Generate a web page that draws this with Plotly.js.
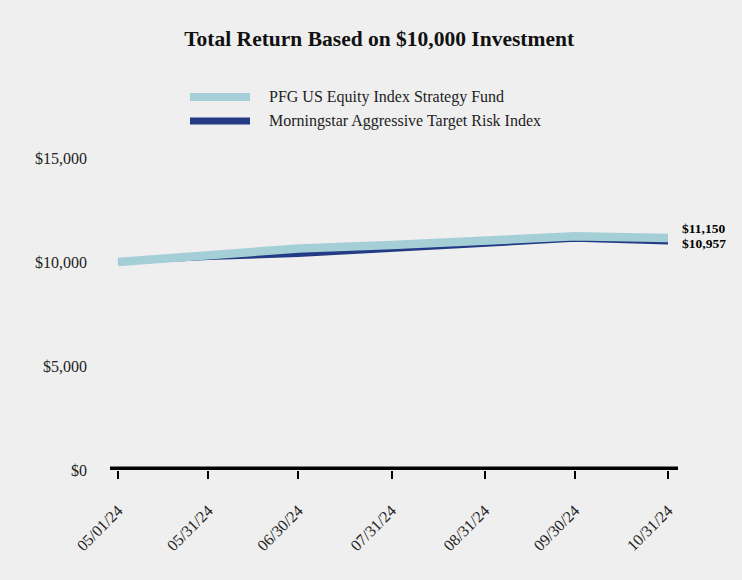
<!DOCTYPE html>
<html>
<head>
<meta charset="utf-8">
<script src="https://cdn.plot.ly/plotly-3.0.1.min.js"></script>
<style>html,body{margin:0;padding:0;background:#efefef;}#chart{width:742px;height:580px;}</style>
</head>
<body>
<div id="chart"></div>
<script>
var dates = ["2024-05-01","2024-05-31","2024-06-30","2024-07-31","2024-08-31","2024-09-30","2024-10-31"];
var tickLabels = ["05/01/24","05/31/24","06/30/24","07/31/24","08/31/24","09/30/24","10/31/24"];
var fundName = "PFG US Equity Index Strategy Fund";
var indexName = "Morningstar Aggressive Target Risk Index";
var fundValues = [10000, 10346, 10650, 10817, 11010, 11235, 11150];
var indexValues = [10000, 10216, 10361, 10625, 10865, 11090, 10957];
var yTickVals = [0, 5000, 10000, 15000];
var yTickText = ["$0", "$5,000", "$10,000", "$15,000"];
var endLabels = ["$11,150", "$10,957"];

var serif = "Liberation Serif, Times New Roman, serif";
var last = dates.length - 1;
var fundColor = "#a5cfd7", indexColor = "#223b84";

// plot area in pixels (for placing the manual legend)
var W = 742, H = 580, L = 110, R = 64, T = 158, B = 110;
var pw = W - L - R, ph = H - T - B;
function px(x) { return (x - L) / pw; }
function py(y) { return (H - B - y) / ph; }

var traces = [
  {x: dates, y: indexValues, name: indexName, type: "scatter", mode: "lines",
   line: {color: indexColor, width: 5}, showlegend: false, hoverinfo: "skip"},
  {x: dates, y: fundValues, name: fundName, type: "scatter", mode: "lines",
   line: {color: fundColor, width: 8.5}, showlegend: false, hoverinfo: "skip"}
];

var legendItems = [
  {name: fundName, color: fundColor, width: 8, y: 97},
  {name: indexName, color: indexColor, width: 7, y: 121}
];

var shapes = [
  {type: "line", xref: "paper", yref: "y", x0: 0, x1: 1, y0: 0, y1: 0,
   line: {color: "#000", width: 7}}
];
var annotations = [
  {x: dates[last], y: fundValues[last], xref: "x", yref: "y", text: "<b>" + endLabels[0] + "</b>",
   showarrow: false, xanchor: "left", yanchor: "middle", xshift: 12, yshift: 10,
   font: {family: serif, size: 13.5, color: "#000"}},
  {x: dates[last], y: indexValues[last], xref: "x", yref: "y", text: "<b>" + endLabels[1] + "</b>",
   showarrow: false, xanchor: "left", yanchor: "middle", xshift: 12, yshift: -1,
   font: {family: serif, size: 13.5, color: "#000"}}
];
legendItems.forEach(function (it) {
  shapes.push({type: "line", xref: "paper", yref: "paper", x0: px(190), x1: px(250),
               y0: py(it.y), y1: py(it.y), line: {color: it.color, width: it.width}});
  annotations.push({xref: "paper", yref: "paper", x: px(267), y: py(it.y), text: it.name,
                    showarrow: false, xanchor: "left", yanchor: "middle",
                    font: {family: serif, size: 16, color: "#222"}});
});

var layout = {
  width: W, height: H,
  paper_bgcolor: "#efefef", plot_bgcolor: "#efefef",
  margin: {l: L, r: R, t: T, b: B},
  font: {family: serif, color: "#222", size: 14},
  title: {text: "<b>Total Return Based on $10,000 Investment</b>",
          font: {family: serif, size: 21.5, color: "#111"},
          x: 0.511, xref: "container", xanchor: "center",
          y: 1 - 38/580, yref: "container", yanchor: "middle"},
  showlegend: false,
  xaxis: {type: "date", range: ["2024-04-28 08:00", "2024-11-03 08:00"],
          tickvals: dates, ticktext: tickLabels, tickangle: -45,
          ticks: "outside", ticklen: 8, tickwidth: 2, tickcolor: "#000",
          showgrid: false, zeroline: false, showline: false,
          ticklabelstandoff: 16,
          tickfont: {family: serif, size: 16, color: "#222"}},
  yaxis: {range: [0, 15000], tickvals: yTickVals, ticktext: yTickText,
          showgrid: false, zeroline: false, showline: false, ticks: "",
          ticklabelstandoff: 22,
          tickfont: {family: serif, size: 16, color: "#222"}},
  shapes: shapes,
  annotations: annotations
};

Plotly.newPlot("chart", traces, layout, {displayModeBar: false, staticPlot: true});
</script>
</body>
</html>
